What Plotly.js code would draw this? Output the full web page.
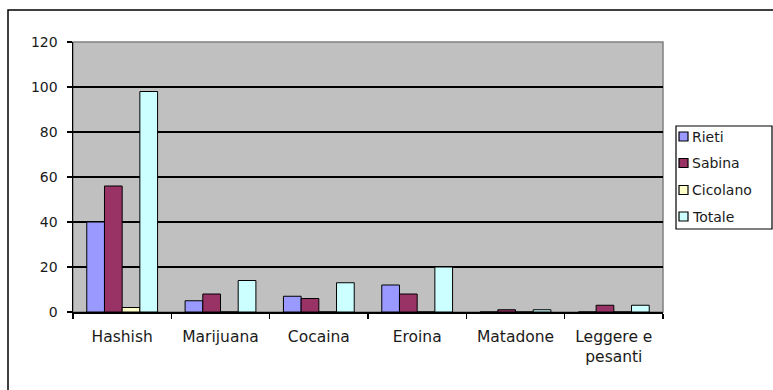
<!DOCTYPE html>
<html>
<head>
<meta charset="utf-8">
<script src="https://cdn.plot.ly/plotly-3.0.1.min.js"></script>
<style>html,body{margin:0;padding:0;background:#fff;}</style>
</head>
<body>
<div id="chart" style="width:773px;height:390px;"></div>
<script>
var categories = ["Hashish", "Marijuana", "Cocaina", "Eroina", "Matadone", "Leggere e<br>pesanti"];
var seriesNames = ["Rieti", "Sabina", "Cicolano", "Totale"];
var rieti    = [40, 5, 7, 12, 0, 0];
var sabina   = [56, 8, 6, 8, 1, 3];
var cicolano = [2, 0, 0, 0, 0, 0];
var totale   = [98, 14, 13, 20, 1, 3];
var yTicks = [0, 20, 40, 60, 80, 100, 120];
var colors = ["#9999FF", "#993366", "#FFFFCC", "#CCFFFF"];

var values = [rieti, sabina, cicolano, totale];
var traces = values.map(function (v, i) {
  return {
    type: "bar",
    name: seriesNames[i],
    x: categories,
    y: v,
    marker: {color: colors[i], line: {color: "#000", width: 1}},
    hoverinfo: "x+y+name"
  };
});

var FAM = "DejaVu Sans, Verdana, sans-serif";
var TXT = "#1a1a1a";

// plot area in pixels (for converting legend positions to paper coords)
var L = 73, R = 663, T = 42, B = 312;
function px(x) { return (x - L) / (R - L); }
function py(y) { return (B - y) / (B - T); }

var shapes = [
  {type: "rect", xref: "paper", yref: "paper", x0: 0, x1: 1, y0: 0, y1: 1,
   line: {color: "#808080", width: 1.5}, layer: "below"},
  {type: "rect", xref: "paper", yref: "paper", x0: px(8), x1: px(790), y0: py(420), y1: py(10),
   line: {color: "#000", width: 1.5}, layer: "below"},
  // legend box
  {type: "rect", xref: "paper", yref: "paper", x0: px(676), x1: px(772), y0: py(229), y1: py(126),
   line: {color: "#000", width: 1.2}, fillcolor: "#fff", layer: "above"}
];
var annotations = [];
var legendCenters = [136.5, 163, 190, 216.5];
seriesNames.forEach(function (n, i) {
  var cy = legendCenters[i];
  shapes.push({type: "rect", xref: "paper", yref: "paper",
    x0: px(679), x1: px(688), y0: py(cy + 4.5), y1: py(cy - 4.5),
    line: {color: "#000", width: 1.2}, fillcolor: colors[i], layer: "above"});
  annotations.push({xref: "paper", yref: "paper", x: px(690), y: py(cy),
    xanchor: "left", yanchor: "middle", showarrow: false, text: n,
    font: {family: FAM, size: 14, color: TXT}});
});

var layout = {
  width: 773, height: 390,
  margin: {l: L, r: 773 - R, t: T, b: 390 - B},
  paper_bgcolor: "#fff",
  plot_bgcolor: "#C0C0C0",
  font: {family: FAM, size: 14, color: TXT},
  barmode: "group",
  bargap: 0.28,
  bargroupgap: 0,
  showlegend: false,
  xaxis: {
    type: "category",
    tickson: "boundaries",
    ticks: "outside", ticklen: 5, tickcolor: "#000", tickwidth: 1.5,
    showline: true, linecolor: "#000", linewidth: 1.5,
    showgrid: false,
    ticklabelstandoff: 10,
    tickfont: {family: FAM, size: 15.5, color: TXT}
  },
  yaxis: {
    range: [0, 120],
    tickvals: yTicks,
    ticks: "outside", ticklen: 5, tickcolor: "#000", tickwidth: 1.5,
    showline: true, linecolor: "#000", linewidth: 1.5,
    showgrid: true, gridcolor: "#000", gridwidth: 1.3,
    zeroline: false,
    ticklabelstandoff: 6,
    tickfont: {family: FAM, size: 14, color: TXT}
  },
  shapes: shapes,
  annotations: annotations
};

Plotly.newPlot("chart", traces, layout, {displayModeBar: false, staticPlot: true});
</script>
</body>
</html>
